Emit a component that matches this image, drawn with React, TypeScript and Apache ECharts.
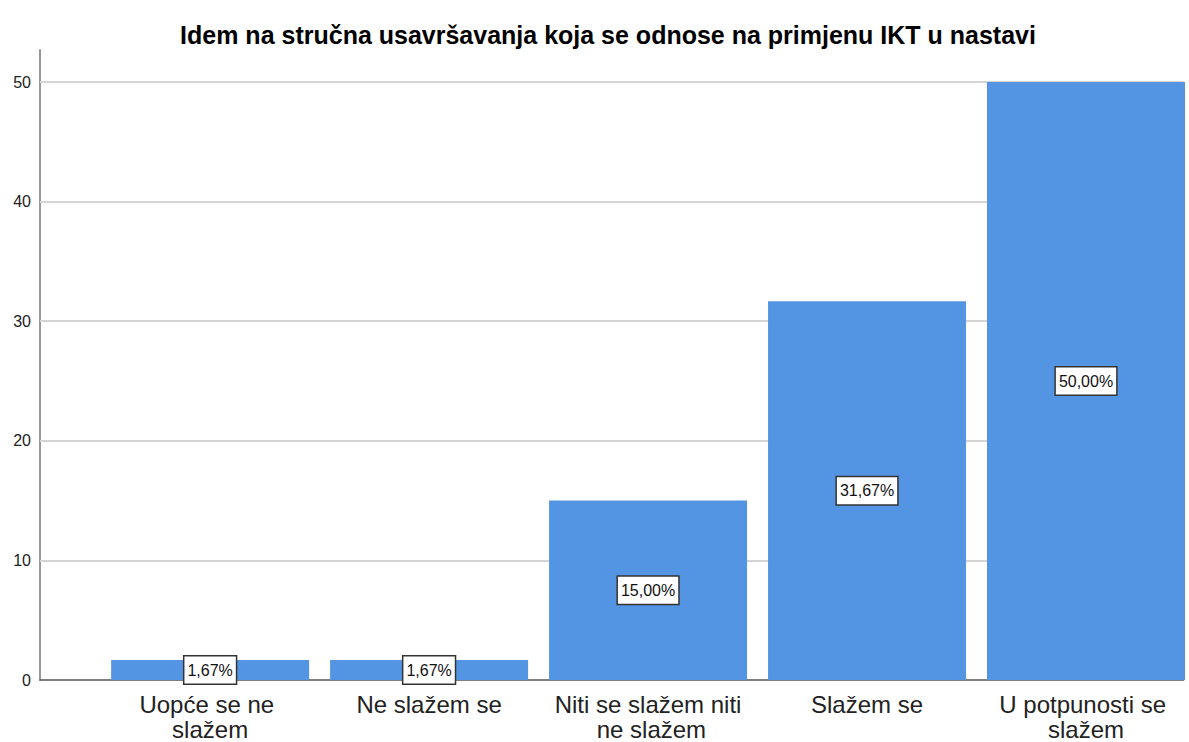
import React, { useEffect, useRef } from "react";
import * as echarts from "echarts";

const title = "Idem na stručna usavršavanja koja se odnose na primjenu IKT u nastavi";
const categories = [
  "Uopće se ne slažem",
  "Ne slažem se",
  "Niti se slažem niti ne slažem",
  "Slažem se",
  "U potpunosti se slažem",
];
const percents = [1.67, 1.67, 15.0, 31.67, 50.0];
const yTicks = [0, 10, 20, 30, 40, 50];

export default function App() {
  const ref = useRef<HTMLDivElement>(null);
  useEffect(() => {
    if (!ref.current) return;
    const chart = echarts.init(ref.current, null, { renderer: "svg", width: 1189, height: 742 });
    const font = "'Liberation Sans', Arial, sans-serif";
    chart.setOption({
      animation: false,
      backgroundColor: "#ffffff",
      title: {
        text: title,
        left: 603,
        top: 17,
        textAlign: "center",
        textStyle: { fontFamily: font, fontWeight: "bold", fontSize: 25, color: "#000" },
      },
      grid: { left: 40, width: 1149, top: 50, height: 630, containLabel: false },
      xAxis: {
        type: "value",
        min: -0.777,
        max: 4.4457,
        axisLine: { show: true, onZero: false, lineStyle: { color: "#555", width: 1.5 } },
        axisTick: { show: false },
        splitLine: { show: false },
        axisLabel: {
          customValues: categories.map((_, i) => i),
          formatter: (v: number) => categories[Math.round(v)] ?? "",
          fontFamily: font,
          fontSize: 24,
          color: "#222",
          lineHeight: 25,
          margin: 12,
          width: 200,
          overflow: "break",
        },
      },
      yAxis: {
        type: "value",
        min: 0,
        max: 52.68,
        axisLine: { show: true, onZero: false, lineStyle: { color: "#999", width: 2 } },
        axisTick: { show: false },
        axisLabel: {
          customValues: yTicks,
          fontFamily: font,
          fontSize: 16,
          color: "#222",
          margin: 9,
        },
        splitLine: { show: false },
      },
      series: [
        {
          type: "bar",
          barWidth: 198,
          data: categories.map((_, i) => [i, percents[i]]),
          itemStyle: { color: "#5495e3" },
          markLine: {
            silent: true,
            symbol: "none",
            label: { show: false },
            lineStyle: { color: "#d4d4d4", width: 2, type: "solid" },
            data: yTicks.filter((t) => t > 0).map((t) => ({ yAxis: t })),
            z: 1,
          },
          label: {
            show: true,
            position: "inside",
            formatter: (p: any) => p.value[1].toFixed(2).replace(".", ",") + "%",
            fontFamily: font,
            fontSize: 16,
            color: "#111",
            backgroundColor: "#ffffff",
            borderColor: "#333",
            borderWidth: 1.5,
            padding: [6, 3, 5, 3],
          },
          z: 2,
        },
      ],
    });
    return () => chart.dispose();
  }, []);
  return (
    <div
      ref={ref}
      style={{ position: "fixed", left: 0, top: 0, width: 1189, height: 742 }}
    />
  );
}
